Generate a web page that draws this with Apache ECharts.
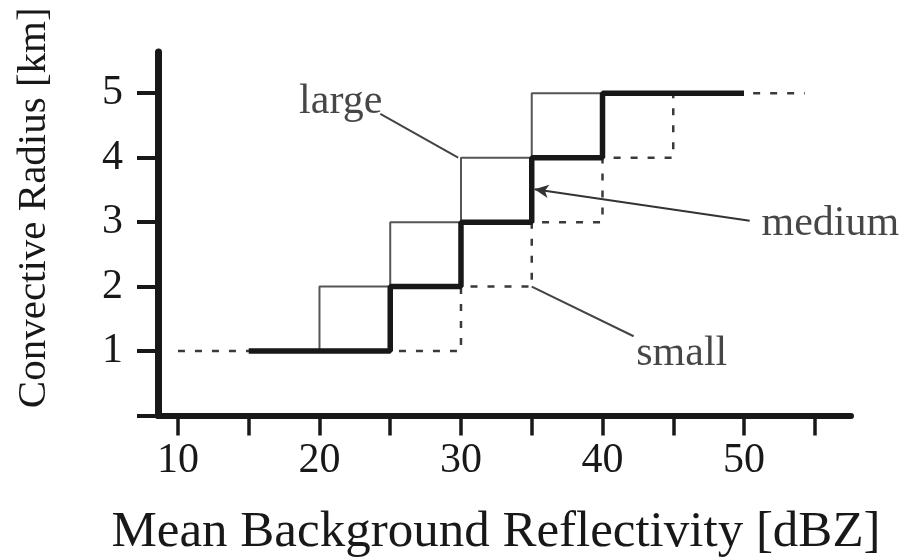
<!DOCTYPE html>
<html><head><meta charset="utf-8">
<script src="https://cdn.jsdelivr.net/npm/echarts@6/dist/echarts.min.js"></script>
<style>html,body{margin:0;padding:0;background:#fff}#c{width:901px;height:557px}</style>
</head><body><div id="c"></div>
<script>
// Step breakpoints (x = dBZ, y = km), drawn with step:'end'
const largeSteps  = [[15,1],[20,2],[25,3],[30,4],[35,5],[40,5]];
const mediumSteps = [[15,1],[25,2],[30,3],[35,4],[40,5],[50,5]];
const smallSteps  = [[10,1],[30,2],[35,3],[40,4],[45,5],[54.3,5]];
const xTicks = [10,15,20,25,30,35,40,45,50,55];
const xLabels = [10,20,30,40,50];
const yTicks = [0,1,2,3,4,5];
const yLabels = [1,2,3,4,5];
// annotation labels and leader lines (data coordinates)
const annoNames = ['large','medium','small'];
const annoPos = [[21.5,4.86],[56.1,2.97],[45.6,0.95]];
const largeLeader = [[24.3,4.68],[29.8,4.0]];
const mediumLeader = [[50.4,3.02],[35.2,3.51]];
const smallLeader = [[35,2],[42.2,1.23]];

const serif = 'Liberation Serif';
const ink = '#181818';
const chart = echarts.init(document.getElementById('c'));
chart.setOption({
  backgroundColor:'#fff',
  animation:false,
  grid:{left:158,right:50,top:52,bottom:141.5,containLabel:false,outerBoundsMode:'none'},
  xAxis:{
    type:'value', min:8.59, max:57.56,
    name:'Mean Background Reflectivity [dBZ]', nameLocation:'middle', nameGap:92,
    nameTextStyle:{fontFamily:serif,fontSize:51,color:ink,padding:[0,17,0,0]},
    axisLine:{lineStyle:{color:ink,width:6}},
    axisTick:{show:true,customValues:xTicks,length:20,lineStyle:{color:ink,width:3.5}},
    axisLabel:{customValues:xLabels,margin:24,fontFamily:serif,fontSize:42,color:ink},
    splitLine:{show:false}
  },
  yAxis:{
    type:'value', min:0, max:5.64,
    name:'Convective Radius [km]', nameLocation:'middle', nameGap:103,
    nameTextStyle:{fontFamily:serif,fontSize:41,color:ink,padding:[0,0,0,52]},
    axisLine:{show:true,lineStyle:{color:ink,width:7}},
    axisTick:{show:true,customValues:yTicks,length:21,lineStyle:{color:ink,width:4}},
    axisLabel:{customValues:yLabels,margin:35,fontFamily:serif,fontSize:42,color:ink},
    splitLine:{show:false}
  },
  series:[
    {type:'line',name:'small',data:smallSteps,step:'end',symbol:'none',
     lineStyle:{color:'#3a3a3a',width:2.5,type:[7,10]}},
    {type:'line',name:'large',data:largeSteps,step:'end',symbol:'none',
     lineStyle:{color:'#555',width:2}},
    {type:'line',name:'medium',data:mediumSteps,step:'end',symbol:'none',
     lineStyle:{color:ink,width:5.5}},
    {type:'line',data:largeLeader,symbol:'none',lineStyle:{color:'#444',width:2}},
    {type:'line',data:smallLeader,symbol:'none',lineStyle:{color:'#444',width:2}},
    {type:'line',data:[],symbol:'none',
     markLine:{silent:true,symbol:['none','arrow'],symbolSize:[10,14],label:{show:false},
       lineStyle:{color:'#333',width:2,type:'solid'},
       data:[[{coord:mediumLeader[0]},{coord:mediumLeader[1]}]]}},
    {type:'scatter',symbolSize:0,
     data:annoNames.map((n,i)=>({name:n,value:annoPos[i]})),
     label:{show:true,position:'inside',formatter:p=>p.name,
       fontFamily:serif,fontSize:42,color:ink}}
  ]
});
</script></body></html>
